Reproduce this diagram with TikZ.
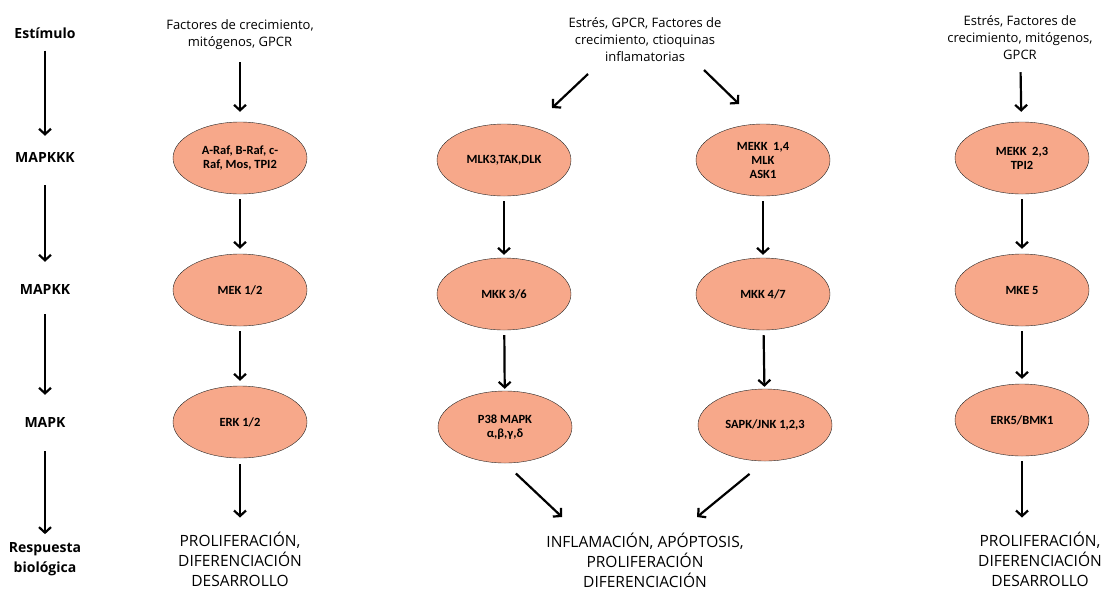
\documentclass[tikz,border=0pt]{standalone}
\usepackage{fontspec}
\setmainfont{Open Sans}
\newfontfamily\carlito{Carlito}
\usetikzlibrary{arrows.meta,shapes.geometric}

\definecolor{salmon}{HTML}{F7A88A}

\tikzset{
  kinase/.style={ellipse, draw=black!85, fill=salmon, minimum width=134pt,
    minimum height=72pt, inner sep=0pt, align=center,
    font=\carlito\bfseries\fontsize{12.5}{14}\selectfont},
  level/.style={font=\bfseries\fontsize{14}{20}\selectfont, align=center, inner sep=0pt},
  stimulus/.style={font=\fontsize{13}{17}\selectfont, align=center, inner sep=0pt},
  response/.style={font=\fontsize{15.5}{20}\selectfont, align=center, inner sep=0pt},
  arr/.style={-{Straight Barb[length=5.5pt,width=12pt]}, line width=2.2pt},
}

\begin{document}
\begin{tikzpicture}[x=1pt,y=-1pt]
        \useasboundingbox (0,0) rectangle (1105,590);

        % Level labels on the left
        \node[level] (estim) at (45,33) {Estímulo};
        \node[level] (mkkk) at (45,157) {MAPKKK};
        \node[level] (mkk) at (45,289) {MAPKK};
        \node[level] (mk) at (45,422) {MAPK};
        \node[level] (resp) at (45,559) {Respuesta\\biológica};

        \draw[arr, shorten <=12pt, shorten >=16pt] (estim) -- (mkkk);
        \draw[arr, shorten <=23pt, shorten >=22pt] (mkkk) -- (mkk);
        \draw[arr, shorten <=20pt, shorten >=22pt] (mkk) -- (mk);
        \draw[arr, shorten <=24pt, shorten >=8pt] (mk) -- (resp);

        % ERK pathway
        \node[stimulus] (stim1) at (240,35) {Factores de crecimiento,\\mitógenos, GPCR};
        \node[kinase] (raf) at (240,158) {A-Raf, B-Raf, c-\\Raf, Mos, TPI2};
        \node[kinase] (mek) at (240,290) {MEK 1/2};
        \node[kinase] (erk) at (240,422) {ERK 1/2};
        \node[response] (out1) at (240,559) {PROLIFERACIÓN,\\DIFERENCIACIÓN\\DESARROLLO};

        \draw[arr, shorten <=12pt, shorten >=10pt] (stim1) -- (raf);
        \draw[arr, shorten <=5pt, shorten >=5pt] (raf) -- (mek);
        \draw[arr, shorten <=5pt, shorten >=5pt] (mek) -- (erk);
        \draw[arr, shorten <=6pt, shorten >=14pt] (erk) -- (out1);

        % p38 and JNK pathways
        \node[stimulus] (stim2) at (645,40) {Estrés, GPCR, Factores de\\crecimiento, ctioquinas\\inflamatorias};
        \node[kinase] (mlk) at (504,160) {MLK3,TAK,DLK};
        \node[kinase] (mekk) at (763,160) {MEKK\ \ 1,4\\MLK\\ASK1};
        \node[kinase] (mkk36) at (504,294) {MKK 3/6};
        \node[kinase] (mkk47) at (763,294) {MKK 4/7};
        \node[kinase] (p38) at (505,427) {P38 MAPK\\α,β,γ,δ};
        \node[kinase] (sapk) at (765,425) {SAPK/JNK 1,2,3};
        \node[response] (out2) at (645,560) {INFLAMACIÓN, APÓPTOSIS,\\PROLIFERACIÓN\\DIFERENCIACIÓN};

        \coordinate (s2l) at (588,74);
        \coordinate (e2l) at (552,108);
        \coordinate (s2r) at (704,70);
        \coordinate (e2r) at (739,104);
        \draw[arr] (s2l) -- (e2l);
        \draw[arr] (s2r) -- (e2r);

        \draw[arr, shorten <=5pt, shorten >=3pt] (mlk) -- (mkk36);
        \draw[arr, shorten <=5pt, shorten >=3pt] (mekk) -- (mkk47);
        \draw[arr, shorten <=5pt, shorten >=2pt] (mkk36) -- (p38);
        \draw[arr, shorten <=5pt, shorten >=2pt] (mkk47) -- (sapk);

        \coordinate (r2l) at (562,517);
        \coordinate (r2r) at (697,517);
        \draw[arr, shorten <=15pt] (p38.south) -- (r2l);
        \draw[arr, shorten <=20pt] (sapk.south) -- (r2r);

        % ERK5 pathway
        \node[stimulus] (stim4) at (1020,38) {Estrés, Factores de\\crecimiento, mitógenos,\\GPCR};
        \node[kinase] (mekk23) at (1022,158) {MEKK\ \ 2,3\\TPI2};
        \node[kinase] (mke) at (1022,290) {MKE 5};
        \node[kinase] (erk5) at (1022,420) {ERK5/BMK1};
        \node[response] (out4) at (1040,559) {PROLIFERACIÓN,\\DIFERENCIACIÓN\\DESARROLLO};

        \draw[arr, shorten <=12pt, shorten >=10pt] (stim4) -- (mekk23);
        \draw[arr, shorten <=5pt, shorten >=5pt] (mekk23) -- (mke);
        \draw[arr, shorten <=5pt, shorten >=5pt] (mke) -- (erk5);
        \draw[arr, shorten <=5pt, shorten >=14pt] (erk5.south) -- (erk5.south |- out4.north);
    \end{tikzpicture}
\end{document}
